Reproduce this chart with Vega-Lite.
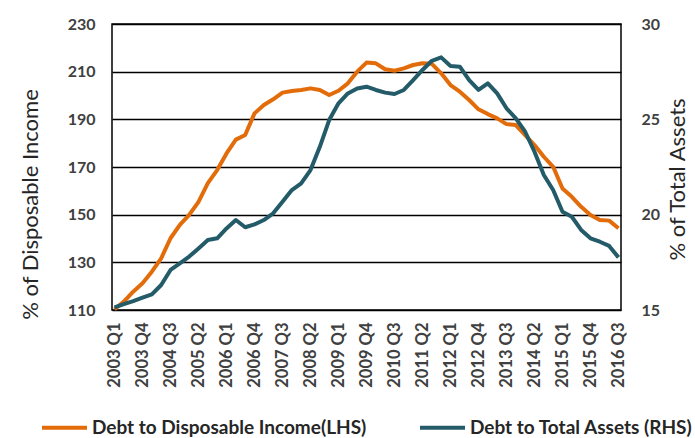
{
  "$schema": "https://vega.github.io/schema/vega-lite/v6.json",
  "width": 509,
  "height": 286,
  "autosize": {"type": "none"},
  "padding": {"left": 112, "top": 24, "right": 74, "bottom": 128},
  "background": "white",
  "config": {
    "view": {"stroke": "#000000", "strokeWidth": 1.5},
    "font": "Lato"
  },
  "data": {
    "values": [
      {"q": "2003 Q1", "dti": 110.3, "dta": 15.14},
      {"q": "2003 Q2", "dti": 113.5, "dta": 15.31},
      {"q": "2003 Q3", "dti": 117.7, "dta": 15.47},
      {"q": "2003 Q4", "dti": 121.2, "dta": 15.65},
      {"q": "2004 Q1", "dti": 126.1, "dta": 15.82},
      {"q": "2004 Q2", "dti": 131.7, "dta": 16.31},
      {"q": "2004 Q3", "dti": 140.1, "dta": 17.1},
      {"q": "2004 Q4", "dti": 145.7, "dta": 17.45},
      {"q": "2005 Q1", "dti": 149.9, "dta": 17.8},
      {"q": "2005 Q2", "dti": 155.4, "dta": 18.23},
      {"q": "2005 Q3", "dti": 163.2, "dta": 18.67},
      {"q": "2005 Q4", "dti": 168.7, "dta": 18.76},
      {"q": "2006 Q1", "dti": 175.7, "dta": 19.28},
      {"q": "2006 Q2", "dti": 181.5, "dta": 19.72},
      {"q": "2006 Q3", "dti": 183.4, "dta": 19.34},
      {"q": "2006 Q4", "dti": 192.5, "dta": 19.49},
      {"q": "2007 Q1", "dti": 196.0, "dta": 19.72},
      {"q": "2007 Q2", "dti": 198.4, "dta": 20.07},
      {"q": "2007 Q3", "dti": 201.2, "dta": 20.68},
      {"q": "2007 Q4", "dti": 201.9, "dta": 21.29},
      {"q": "2008 Q1", "dti": 202.3, "dta": 21.64},
      {"q": "2008 Q2", "dti": 203.0, "dta": 22.34},
      {"q": "2008 Q3", "dti": 202.3, "dta": 23.56},
      {"q": "2008 Q4", "dti": 200.2, "dta": 24.96},
      {"q": "2009 Q1", "dti": 202.0, "dta": 25.84},
      {"q": "2009 Q2", "dti": 205.1, "dta": 26.36},
      {"q": "2009 Q3", "dti": 210.0, "dta": 26.62},
      {"q": "2009 Q4", "dti": 213.8, "dta": 26.71},
      {"q": "2010 Q1", "dti": 213.5, "dta": 26.54},
      {"q": "2010 Q2", "dti": 211.0, "dta": 26.4},
      {"q": "2010 Q3", "dti": 210.4, "dta": 26.33},
      {"q": "2010 Q4", "dti": 211.4, "dta": 26.54},
      {"q": "2011 Q1", "dti": 212.8, "dta": 27.06},
      {"q": "2011 Q2", "dti": 213.5, "dta": 27.59},
      {"q": "2011 Q3", "dti": 213.3, "dta": 28.07},
      {"q": "2011 Q4", "dti": 209.3, "dta": 28.25},
      {"q": "2012 Q1", "dti": 204.4, "dta": 27.8},
      {"q": "2012 Q2", "dti": 201.6, "dta": 27.76},
      {"q": "2012 Q3", "dti": 198.1, "dta": 27.06},
      {"q": "2012 Q4", "dti": 194.2, "dta": 26.54},
      {"q": "2013 Q1", "dti": 192.2, "dta": 26.89},
      {"q": "2013 Q2", "dti": 190.4, "dta": 26.36},
      {"q": "2013 Q3", "dti": 188.0, "dta": 25.58},
      {"q": "2013 Q4", "dti": 187.6, "dta": 25.05},
      {"q": "2014 Q1", "dti": 183.4, "dta": 24.35},
      {"q": "2014 Q2", "dti": 179.2, "dta": 23.3},
      {"q": "2014 Q3", "dti": 174.3, "dta": 22.08},
      {"q": "2014 Q4", "dti": 170.1, "dta": 21.29},
      {"q": "2015 Q1", "dti": 161.0, "dta": 20.15},
      {"q": "2015 Q2", "dti": 157.5, "dta": 19.89},
      {"q": "2015 Q3", "dti": 153.3, "dta": 19.2},
      {"q": "2015 Q4", "dti": 149.9, "dta": 18.76},
      {"q": "2016 Q1", "dti": 147.8, "dta": 18.58},
      {"q": "2016 Q2", "dti": 147.5, "dta": 18.36},
      {"q": "2016 Q3", "dti": 144.3, "dta": 17.76}
    ]
  },
  "encoding": {
    "x": {
      "field": "q",
      "type": "ordinal",
      "sort": null,
      "scale": {"type": "point", "padding": 0.27},
      "axis": {
        "title": null,
        "values": ["2003 Q1", "2003 Q4", "2004 Q3", "2005 Q2", "2006 Q1", "2006 Q4", "2007 Q3", "2008 Q2", "2009 Q1", "2009 Q4", "2010 Q3", "2011 Q2", "2012 Q1", "2012 Q4", "2013 Q3", "2014 Q2", "2015 Q1", "2015 Q4", "2016 Q3"],
        "labelAngle": 270,
        "labelAlign": "right",
        "labelBaseline": "middle",
        "labelPadding": 12,
        "labelFontSize": 16.5,
        "labelFontWeight": "bold",
        "labelColor": "#404040",
        "ticks": false,
        "domain": false,
        "grid": false
      }
    }
  },
  "layer": [
    {
      "mark": {"type": "line", "strokeWidth": 4, "strokeJoin": "round"},
      "encoding": {
        "y": {
          "field": "dti",
          "type": "quantitative",
          "scale": {"domain": [110, 230], "nice": false, "zero": false},
          "axis": {
            "title": "% of Disposable Income",
            "values": [110, 130, 150, 170, 190, 210, 230],
            "grid": true,
            "gridColor": "#000000",
            "gridWidth": 1.4,
            "gridOpacity": 1,
            "domain": false,
            "ticks": false,
            "labelPadding": 17,
            "labelFontSize": 16,
            "labelFontWeight": "bold",
            "labelColor": "#404040",
            "titleFontSize": 22,
            "titleFontWeight": "normal",
            "titleColor": "#262626",
            "titleAngle": 270,
            "titleX": -82,
            "titleY": 180,
            "titleAlign": "center",
            "titleBaseline": "middle"
          }
        },
        "color": {
          "datum": "Debt to Disposable Income(LHS)",
          "type": "nominal",
          "scale": {
            "domain": ["Debt to Disposable Income(LHS)", "Debt to Total Assets (RHS)"],
            "range": ["#E36C0A", "#245B68"]
          },
          "legend": {
            "title": null,
            "orient": "none",
            "direction": "horizontal",
            "legendX": -72,
            "legendY": 379,
            "symbolType": "stroke",
            "symbolSize": 2025,
            "symbolStrokeWidth": 4,
            "labelFontSize": 19,
            "labelFontWeight": "bold",
            "labelColor": "#262626",
            "labelLimit": 400,
            "labelOffset": 3,
            "columnPadding": 45
          }
        }
      }
    },
    {
      "mark": {"type": "line", "strokeWidth": 4, "strokeJoin": "round"},
      "encoding": {
        "y": {
          "field": "dta",
          "type": "quantitative",
          "scale": {"domain": [15, 30], "nice": false, "zero": false},
          "axis": {
            "orient": "right",
            "title": "% of Total Assets",
            "values": [15, 20, 25, 30],
            "grid": false,
            "domain": false,
            "ticks": false,
            "labelPadding": 20,
            "labelFontSize": 16,
            "labelFontWeight": "bold",
            "labelColor": "#404040",
            "titleFontSize": 22,
            "titleFontWeight": "normal",
            "titleColor": "#262626",
            "titleAngle": 270,
            "titleX": 56,
            "titleY": 155,
            "titleAlign": "center",
            "titleBaseline": "middle"
          }
        },
        "color": {"datum": "Debt to Total Assets (RHS)", "type": "nominal"}
      }
    }
  ],
  "resolve": {"scale": {"y": "independent"}}
}
